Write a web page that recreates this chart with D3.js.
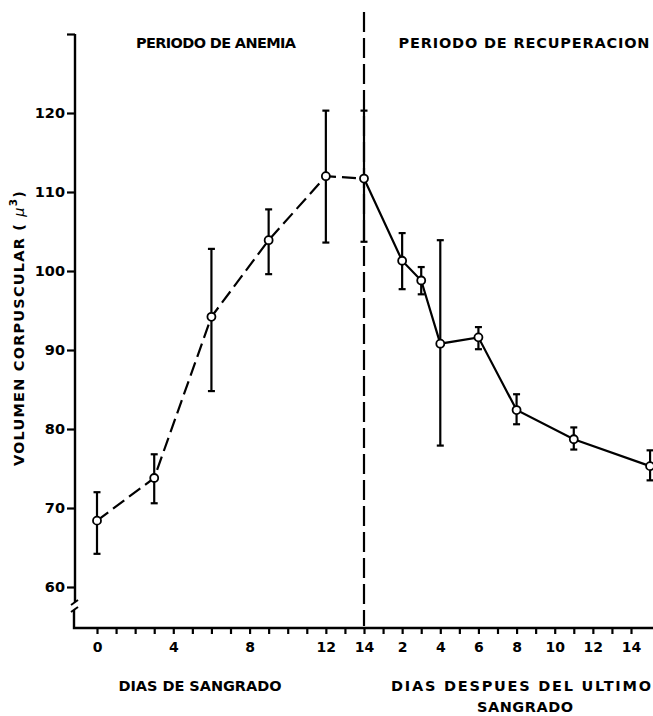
<!DOCTYPE html>
<html>
<head>
<meta charset="utf-8">
<script src="https://cdn.jsdelivr.net/npm/d3@7"></script>
<style>
  html, body { margin: 0; padding: 0; background: #fff; }
  svg { display: block; }
  text { font-family: "DejaVu Sans", sans-serif; font-weight: bold; fill: #000; }
</style>
</head>
<body>
<svg id="chart" width="653" height="716"></svg>
<script>
// Bleeding period: day of bleeding, mean corpuscular volume and error-bar limits
const anemiaDays = [0, 3, 6, 9, 12, 14];
const anemiaMean = [68.4, 73.8, 94.2, 103.9, 112.0, 111.7];
const anemiaHigh = [72.0, 76.8, 102.8, 107.8, 120.3, 120.3];
const anemiaLow  = [64.2, 70.6, 84.8, 99.6, 103.6, 103.7];

// Recovery period: days after the last bleeding
const recoveryDays = [2, 3, 4, 6, 8, 11, 15];
const recoveryMean = [101.3, 98.8, 90.8, 91.6, 82.4, 78.7, 75.3];
const recoveryHigh = [104.8, 100.5, 103.9, 92.9, 84.4, 80.2, 77.3];
const recoveryLow  = [97.7, 97.05, 77.9, 90.1, 80.6, 77.4, 73.5];

// Axis ticks
const yTicks = [60, 70, 80, 90, 100, 110, 120, 130];
const anemiaTickLabels = [0, 4, 8, 12, 14];
const recoveryTickLabels = [2, 4, 6, 8, 10, 12, 14];
const lastBleedingDay = 14;

const svg = d3.select("#chart");

// Continuous day axis: bleeding days 0–14 followed by recovery days
const x = d3.scaleLinear().domain([0, 28]).range([97, 631]);
const y = d3.scaleLinear().domain([60, 120]).range([587, 113]);

const axisX = 75, axisY = 628;

// ---- Y axis ----
const yAxis = d3.axisLeft(y)
  .tickValues(yTicks)
  .tickSize(8)
  .tickPadding(2)
  .tickFormat(d => d === 130 ? "" : d);
const gy = svg.append("g").attr("transform", `translate(${axisX},0)`).call(yAxis);
gy.select(".domain").remove();
gy.selectAll(".tick line").attr("stroke", "#000").attr("stroke-width", 2.2);
gy.selectAll(".tick text")
  .style("font-family", "'DejaVu Sans', sans-serif")
  .style("font-weight", "bold")
  .style("font-size", "14.5px")
  .attr("fill", "#000");

// axis line with a break near the bottom
const axisLine = d3.line();
svg.append("path")
  .attr("d", axisLine([[axisX, y(130)], [axisX, 602]]))
  .attr("stroke", "#000").attr("stroke-width", 2.4).attr("fill", "none");
svg.append("path")
  .attr("d", axisLine([[axisX - 1, 610], [axisX - 1, axisY], [653, axisY]]))
  .attr("stroke", "#000").attr("stroke-width", 2.4).attr("fill", "none");
[0, 7].forEach(dy => {
  svg.append("line")
    .attr("x1", axisX - 4).attr("y1", 605 + dy)
    .attr("x2", axisX + 3).attr("y2", 600 + dy)
    .attr("stroke", "#000").attr("stroke-width", 2);
});

// ---- X axis ----
const xTickLabel = d => {
  if (d <= lastBleedingDay) return anemiaTickLabels.includes(d) ? d : "";
  const r = d - lastBleedingDay;
  return recoveryTickLabels.includes(r) ? r : "";
};
const xAxis = d3.axisBottom(x)
  .tickValues(d3.range(0, 29))
  .tickSize(6)
  .tickPadding(8)
  .tickFormat(xTickLabel);
const gx = svg.append("g").attr("transform", `translate(0,${axisY})`).call(xAxis);
gx.select(".domain").remove();
gx.selectAll(".tick line").attr("stroke", "#000").attr("stroke-width", 2.2);
gx.selectAll(".tick text")
  .style("font-family", "'DejaVu Sans', sans-serif")
  .style("font-weight", "bold")
  .style("font-size", "14px")
  .attr("fill", "#000");

// ---- divider between periods ----
svg.append("line")
  .attr("x1", x(lastBleedingDay)).attr("x2", x(lastBleedingDay))
  .attr("y1", 12).attr("y2", axisY - 2)
  .attr("stroke", "#000").attr("stroke-width", 2.2)
  .attr("stroke-dasharray", "20 6");

// ---- data ----
const anemia = anemiaDays.map((d, i) => ({ day: d, mean: anemiaMean[i], hi: anemiaHigh[i], lo: anemiaLow[i] }));
const recovery = recoveryDays.map((d, i) => ({ day: d + lastBleedingDay, mean: recoveryMean[i], hi: recoveryHigh[i], lo: recoveryLow[i] }));
const lastAnemia = anemia[anemia.length - 1];

const line = d3.line().x(d => x(d.day)).y(d => y(d.mean));

svg.append("path")
  .attr("d", line(anemia))
  .attr("fill", "none").attr("stroke", "#000").attr("stroke-width", 2.2)
  .attr("stroke-dasharray", "14 6");

svg.append("path")
  .attr("d", line([lastAnemia].concat(recovery)))
  .attr("fill", "none").attr("stroke", "#000").attr("stroke-width", 2.2);

const allPoints = anemia.concat(recovery);
const capW = 3.5;
const eb = svg.append("g").attr("stroke", "#000").attr("stroke-width", 2.2);
allPoints.forEach(p => {
  const cx = x(p.day);
  eb.append("line").attr("x1", cx).attr("x2", cx).attr("y1", y(p.hi)).attr("y2", y(p.lo));
  eb.append("line").attr("x1", cx - capW).attr("x2", cx + capW).attr("y1", y(p.hi)).attr("y2", y(p.hi));
  eb.append("line").attr("x1", cx - capW).attr("x2", cx + capW).attr("y1", y(p.lo)).attr("y2", y(p.lo));
});

svg.append("g").selectAll("circle")
  .data(allPoints)
  .join("circle")
  .attr("cx", d => x(d.day)).attr("cy", d => y(d.mean))
  .attr("r", 4)
  .attr("fill", "#fff").attr("stroke", "#000").attr("stroke-width", 1.8);

// ---- labels ----
const label = (txt, cx, cy, len, size) => svg.append("text")
  .attr("x", cx).attr("y", cy)
  .attr("text-anchor", "middle").attr("dominant-baseline", "central")
  .attr("textLength", len).attr("lengthAdjust", "spacing")
  .style("font-size", size + "px")
  .text(txt);

label("PERIODO DE ANEMIA", 216, 43, 160, 14.5);
label("PERIODO  DE RECUPERACION", 524, 43, 251, 14.5);
label("DIAS DE SANGRADO", 200, 686, 163, 14.5);
label("DIAS DESPUES DEL  ULTIMO", 521, 686, 260, 14.5);
label("SANGRADO", 525, 707, 96, 14.5);

// y-axis title
const yt = svg.append("text")
  .attr("transform", "translate(19,328) rotate(-90)")
  .attr("text-anchor", "middle").attr("dominant-baseline", "central")
  .style("font-size", "14.5px")
  .style("letter-spacing", "1.2px");
yt.append("tspan").text("VOLUMEN CORPUSCULAR ( ");
yt.append("tspan").style("font-weight", "normal").style("font-style", "italic").text("μ");
yt.append("tspan").attr("dy", -6).style("font-size", "10.5px").text("3");
yt.append("tspan").attr("dy", 6).text(")");
</script>
</body>
</html>
